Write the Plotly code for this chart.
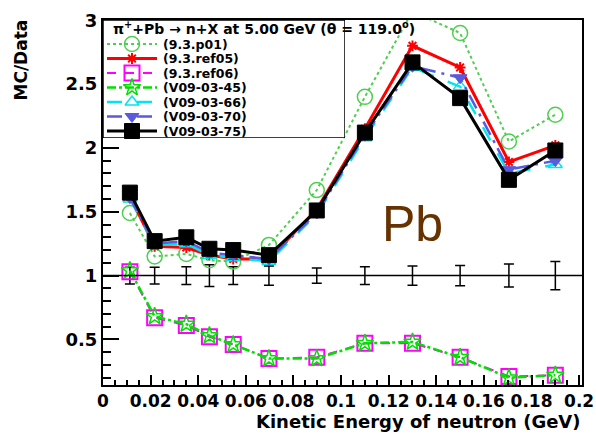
import plotly.graph_objects as go

# Neutron kinetic energy bin centres (GeV)
energy = [0.0113, 0.0217, 0.035, 0.0447, 0.0547, 0.0697, 0.0898, 0.110, 0.130, 0.150, 0.1705, 0.190]

# Data reference (ratio = 1) with relative errors
data_err = [0.065, 0.065, 0.07, 0.085, 0.07, 0.075, 0.06, 0.07, 0.075, 0.08, 0.09, 0.11]

# MC / Data ratios per Geant4 version
p01    = [1.49, 1.15, 1.17, 1.12, 1.11, 1.24, 1.67, 2.40, 3.07, 2.90, 2.05, 2.26]
ref05  = [1.62, 1.23, 1.22, 1.16, 1.13, 1.13, 1.52, 2.15, 2.80, 2.63, 1.89, 2.02]
ref06  = [1.03, 0.67, 0.61, 0.52, 0.46, 0.35, 0.36, 0.47, 0.47, 0.36, 0.21, 0.22]
v45    = [1.04, 0.68, 0.62, 0.53, 0.46, 0.35, 0.35, 0.47, 0.48, 0.36, 0.20, 0.22]
v66    = [1.60, 1.24, 1.25, 1.16, 1.14, 1.11, 1.48, 2.08, 2.63, 2.48, 1.80, 1.87]
v70    = [1.61, 1.25, 1.27, 1.18, 1.16, 1.13, 1.49, 2.10, 2.64, 2.55, 1.83, 1.90]
v75    = [1.65, 1.27, 1.30, 1.21, 1.20, 1.16, 1.51, 2.12, 2.67, 2.39, 1.75, 1.98]

labels = ["(9.3.p01)", "(9.3.ref05)", "(9.3.ref06)", "(V09-03-45)",
          "(V09-03-66)", "(V09-03-70)", "(V09-03-75)"]
series = [p01, ref05, ref06, v45, v66, v70, v75]
styles = [
    dict(color="#4fcf4f", dash="dot", width=2, symbol="circle-open", size=15, mlw=1.5),
    dict(color="#ff0000", dash="solid", width=3, symbol="asterisk-open", size=9, mlw=2),
    dict(color="#ff00ff", dash="dash", width=2, symbol="square-open", size=15, mlw=2),
    dict(color="#00e000", dash="dashdot", width=2.5, symbol="star-open", size=13, mlw=1.5),
    dict(color="#00e5ee", dash="longdash", width=2.5, symbol="triangle-up-open", size=12, mlw=1.5),
    dict(color="#5a5ade", dash="longdashdot", width=2.5, symbol="triangle-down", size=12, mlw=1),
    dict(color="#000000", dash="solid", width=3, symbol="square", size=15, mlw=1),
]

title_text = "π<sup>+</sup>+Pb → n+X at 5.00 GeV (θ = 119.0<sup>o</sup>)"

fig = go.Figure()

# Data: ratio of one with its error bars
fig.add_trace(go.Scatter(
    x=energy, y=[1.0] * len(energy), mode="markers",
    marker=dict(size=1, color="black"),
    error_y=dict(type="data", array=data_err, visible=True,
                 color="black", thickness=1.5, width=5),
    showlegend=False,
))

for ys, st in zip(series, styles):
    fig.add_trace(go.Scatter(
        x=energy, y=ys, mode="lines+markers",
        line=dict(color=st["color"], dash=st["dash"], width=st["width"]),
        marker=dict(symbol=st["symbol"], size=st["size"], color=st["color"],
                    line=dict(color=st["color"], width=st["mlw"])),
        showlegend=False, xaxis="x", yaxis="y",
    ))

# Legend panel drawn on its own small subplot (coordinates in panel units)
LX0, LX1, LY0, LY1 = 103, 345, 20, 138
row_y = [44 + 14.5 * i for i in range(len(labels))]
for yy, st in zip(row_y, styles):
    fig.add_trace(go.Scatter(
        x=[107, 157], y=[yy, yy], mode="lines",
        line=dict(color=st["color"], dash=st["dash"], width=st["width"]),
        xaxis="x2", yaxis="y2", showlegend=False, cliponaxis=False,
    ))
    fig.add_trace(go.Scatter(
        x=[132], y=[yy], mode="markers",
        marker=dict(symbol=st["symbol"], size=st["size"], color=st["color"],
                    line=dict(color=st["color"], width=st["mlw"])),
        xaxis="x2", yaxis="y2", showlegend=False, cliponaxis=False,
    ))

annotations = []
for yy, lab in zip(row_y, labels):
    annotations.append(dict(
        x=161, y=yy, xref="x2", yref="y2", text=lab, showarrow=False,
        xanchor="left", yanchor="middle",
        font=dict(family="DejaVu Sans", size=12.5, color="black", weight="bold"),
    ))
annotations.append(dict(
    x=111, y=28, xref="x2", yref="y2", text=title_text, showarrow=False,
    xanchor="left", yanchor="middle",
    font=dict(family="DejaVu Sans", size=14, color="black", weight="bold"),
))

PL, PR, PT, PB = 103, 14, 20, 50
W, H = 596, 435
pw, ph = W - PL - PR, H - PT - PB

def px_x(px):
    return (px - PL) / pw

def px_y(py):
    return (H - PB - py) / ph

annotations += [
    dict(x=px_x(20), y=px_y(18), xref="paper", yref="paper", text="MC/Data",
         textangle=-90, showarrow=False, xanchor="center", yanchor="top",
         font=dict(family="DejaVu Sans", size=17, color="black", weight="bold")),
    dict(x=px_x(583), y=px_y(422), xref="paper", yref="paper",
         text="Kinetic Energy of neutron (GeV)", showarrow=False,
         xanchor="right", yanchor="middle",
         font=dict(family="DejaVu Sans", size=18, color="black", weight="bold")),
    dict(x=px_x(412), y=px_y(224), xref="paper", yref="paper", text="Pb",
         showarrow=False, xanchor="center", yanchor="middle",
         font=dict(family="Liberation Sans", size=50, color="#663300")),
]

ytickfont = dict(family="DejaVu Sans", size=18, color="black", weight="bold")
xtickfont = dict(family="DejaVu Sans", size=17, color="black", weight="bold")

fig.update_layout(
    width=W, height=H,
    margin=dict(l=PL, r=PR, t=PT, b=PB),
    paper_bgcolor="white", plot_bgcolor="white",
    showlegend=False,
    xaxis=dict(
        range=[0, 0.2012], tick0=0, dtick=0.02, ticks="inside", ticklen=10,
        tickwidth=1.5, tickcolor="black",
        minor=dict(ticks="inside", dtick=0.005, ticklen=5, tickwidth=1.5, tickcolor="black"),
        showline=True, mirror=True, linewidth=2, linecolor="black",
        showgrid=False, zeroline=False, tickfont=xtickfont, automargin=False,
        ticklabeloverflow="allow",
    ),
    yaxis=dict(
        range=[0.143, 3.002], tick0=0, dtick=0.5, ticks="inside", ticklen=16,
        tickwidth=1.5, tickcolor="black",
        minor=dict(ticks="inside", dtick=0.1, ticklen=8, tickwidth=1.5, tickcolor="black"),
        showline=True, mirror=True, linewidth=2, linecolor="black",
        showgrid=False, zeroline=False, tickfont=ytickfont, automargin=False,
        ticklabeloverflow="allow",
    ),
    xaxis2=dict(domain=[px_x(LX0), px_x(LX1)], range=[LX0, LX1], anchor="y2",
                visible=False, fixedrange=True),
    yaxis2=dict(domain=[px_y(LY1), px_y(LY0)], range=[LY1, LY0], anchor="x2",
                visible=False, fixedrange=True),
    shapes=[
        # unit ratio reference line
        dict(type="line", xref="x domain", yref="y", x0=0, x1=1, y0=1, y1=1,
             line=dict(color="black", width=1.5), layer="above"),
        # legend panel background and border
        dict(type="rect", xref="x2", yref="y2", x0=LX0, x1=LX1, y0=LY0, y1=LY1,
             fillcolor="white", line=dict(color="black", width=1.5), layer="below"),
    ],
    annotations=annotations,
)

fig.write_html("out.html")
